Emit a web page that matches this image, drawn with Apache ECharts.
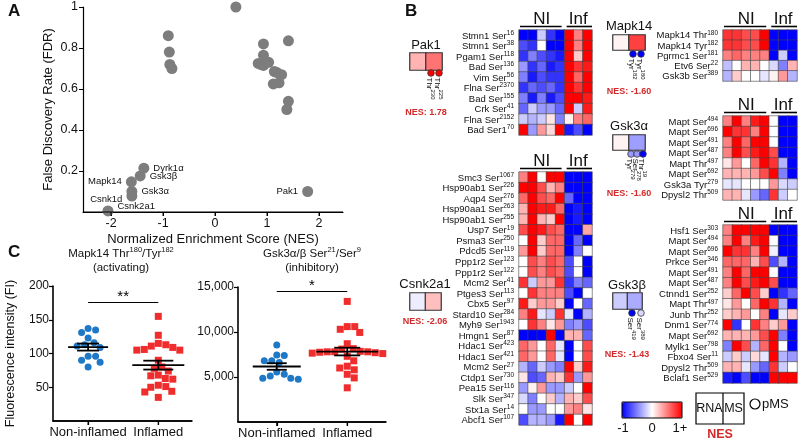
<!DOCTYPE html>
<html><head><meta charset="utf-8">
<script src="https://cdn.jsdelivr.net/npm/echarts@6/dist/echarts.min.js"></script>
<style>html,body{margin:0;padding:0;background:#fff}#c{width:800px;height:442px}</style>
</head><body><div id="c"></div>
<script>
// ---------------- Panel A data ----------------
const aNames = ['','','','','','','','','','','','','','','','','','','','',
  'Dyrk1α','Gsk3β','Mapk14','Gsk3α','Csnk1d','Csnk2a1','Pak1'];
const aNES = [0.40,-0.90,-0.88,-0.87,-0.83,0.93,0.93,1.41,0.83,0.88,0.93,0.98,1.03,1.14,1.19,1.28,1.12,1.23,1.41,1.38,
  -1.37,-1.44,-1.61,-1.60,-1.60,-2.06,1.78];
const aFDR = [1.00,0.86,0.78,0.72,0.70,0.82,0.765,0.835,0.725,0.72,0.715,0.73,0.73,0.685,0.68,0.67,0.625,0.63,0.54,0.50,
  0.214,0.176,0.147,0.100,0.078,0.005,0.100];
const aXTicks = [-2,-1,0,1,2];
const aYTicks = [0.2,0.4,0.6,0.8,1];

// ---------------- Panel C data ----------------
const cGroups = ['Non-inflamed','Inflamed'];
const mapkNI  = [137,135,131,123,116,113,111,109,96,96,90,87,80];
const mapkInf = [155,127,115,113,111,109,106,105,105,90,80,78,74,68,67,63,62,53,51,50,44,43,35];
const gskNI   = [8550,7400,7450,6800,6600,6800,5300,5550,5100,4850,4750,4850];
const gskInf  = [13400,10600,10600,10300,9950,8700,8150,8100,7850,7800,7800,7800,7750,7700,7650,7600,7300,6800,6200,6000,5800,5300,4900,3800];
const mapkTicks = [50,100,150,200];
const gskTicks = [5000,10000,15000];

// ---------------- Panel B data ----------------
const hmCols = ['NI1','NI2','NI3','NI4','NI5','Inf1','Inf2','Inf3'];
const pak1Rows = ['Stmn1 Ser|16','Stmn1 Ser|38','Pgam1 Ser|118','Bad Ser|136','Vim Ser|56','Flna Ser|2370','Bad Ser|155','Crk Ser|41','Flna Ser|2152','Bad Ser1|70'];
const pak1Vals = [
  [-1,-1,-0.2,-0.8,-1, 1,0.5,1],
  [-0.7,-0.8,0,-1,-1, 1,0.5,1],
  [-0.8,-0.5,-0.7,-0.8,-0.9, 1,0.2,1],
  [-0.4,-0.8,-0.6,-0.9,-0.8, 1,0.8,0.9],
  [-0.5,-0.9,-0.7,-0.8,-0.8, 1,0.6,1],
  [-0.8,-0.6,-0.7,-0.6,-0.8, 1,0.8,1],
  [-0.5,-0.9,-0.5,-0.9,-0.7, 1,1,0.9],
  [-0.6,-0.2,-0.4,-0.4,-0.6, 1,-0.2,0.9],
  [-0.2,-0.3,-0.2,0.1,-0.5, 0.05,0.5,0.6],
  [1,-0.4,0.4,0.15,1, -0.9,-0.7,-1]];
const csnkRows = ['Smc3 Ser|1067','Hsp90ab1 Ser|226','Aqp4 Ser|276','Hsp90aa1 Ser|263','Hsp90ab1 Ser|255','Usp7 Ser|19','Psma3 Ser|250','Pdcd5 Ser|119','Ppp1r2 Ser|123','Ppp1r2 Ser|122','Mcm2 Ser|41','Ptges3 Ser|113','Cbx5 Ser|97','Stard10 Ser|284','Myh9 Ser|1943','Hmgn1 Ser|87','Hdac1 Ser|423','Hdac1 Ser|421','Mcm2 Ser|27','Ctdp1 Ser|730','Pea15 Ser|116','Slk Ser|347','Stx1a Ser|14','Abcf1 Ser|107'];
const csnkVals = [
  [0.5,1,0,1,1, -1,-1,-1],
  [1,1,0.7,0.3,0.5, -1,-1,-1],
  [0.6,1,0.7,0.6,1, -0.6,-1,-1],
  [0.3,1,0.9,0.9,0.6, -1,-0.9,-1],
  [0.3,1,0.3,0.2,1, -1,-0.9,-1],
  [0.7,1,0.9,0.7,0.6, -1,-1,0.35],
  [0,1,0.2,0.6,0.6, -1,-0.6,-1],
  [0.4,1,0.2,0.6,0.6, -1,-0.5,0],
  [0,0.7,0.5,0.7,0.6, -0.7,0,-1],
  [0,0.7,0.5,0.7,0.6, -0.7,0,-1],
  [0.8,-0.2,0.4,0.4,0.8, -0.8,-0.5,-0.6],
  [0,0.8,0.5,0.5,0.5, -0.7,-1,0],
  [0.9,0.2,0.4,0.4,0.2, -1,0,-0.6],
  [0.5,0.9,-0.1,-0.2,0.8, -0.1,-1,-0.3],
  [0,0.8,0.5,0.1,0.4, -0.5,-0.4,-0.7],
  [-1,-1,-1,1,-1, 0.3,0.3,-0.6],
  [0.6,0.4,0,0.6,-0.1, -1,0,0.7],
  [0.6,0.4,0,0.6,-0.1, -1,0,0.7],
  [-0.3,-0.6,-0.2,-0.4,-0.5, 1,0.2,0.9],
  [0.1,-0.7,-0.6,0.3,0.2, 0.8,-0.4,0.4],
  [-0.4,0.05,0.4,-0.4,-0.4, -0.2,0,1],
  [-0.15,-0.5,0,0.2,-0.3, 0.3,0.2,0.7],
  [0,-0.4,-0.4,0,0, 0.4,0.5,0.1],
  [-0.7,-0.3,-0.3,-0.4,-0.9, 1,0,1]];
const mapkRows = ['Mapk14 Thr|180','Mapk14 Tyr|182','Pgrmc1 Ser|181','Etv6 Ser|22','Gsk3b Ser|389'];
const mapkVals = [
  [0.8,0.8,0.7,0.7,1, -1,-1,-1],
  [0.8,0.8,0.7,0.7,1, -1,-1,-1],
  [0.5,0.6,0.5,0.5,0.5, -1,-0.2,-1],
  [-0.25,0,0.3,0.3,0, -0.15,-0.5,0.3],
  [-0.3,0.2,0,0,-0.1, 0.05,0.4,-0.3]];
const gskaRows = ['Mapt Ser|494','Mapt Ser|696','Mapt Ser|491','Mapt Ser|487','Mapt Thr|497','Mapt Ser|692','Gsk3a Tyr|279','Dpysl2 Thr|509'];
const gskaVals = [
  [0.5,1,0.5,0.9,1, 0,-1,-1],
  [1,0.8,0.8,0.5,1, 0,-1,-1],
  [0.5,1,0.6,1,1, 0,-1,-1],
  [0.5,1,0.7,0.9,1, 0.7,-1,-1],
  [0.1,0.4,0,0.6,1, 0.8,-0.3,-1],
  [0.3,0.3,0.3,0.4,0.7, 1,-0.5,-1],
  [-0.1,-0.1,0,0,0, 0.4,-0.15,-0.2],
  [0.3,0.3,-0.1,-0.4,-0.6, 0.8,-0.2,0]];
const gskbRows = ['Hsf1 Ser|303','Mapt Ser|494','Mapt Ser|696','Prkce Ser|346','Mapt Ser|491','Mapt Ser|487','Ctnnd1 Ser|252','Mapt Thr|497','Junb Thr|252','Dnm1 Ser|774','Mapt Ser|692','Mylk1 Ser|798','Fbxo4 Ser|11','Dpysl2 Thr|509','Bclaf1 Ser|529'];
const gskbVals = [
  [0.5,1,1,1,1, -1,-1,-1],
  [0.5,1,0.5,0.9,1, 0,-1,-1],
  [1,0.8,0.8,0.5,1, -0.05,-1,-1],
  [0.6,0.6,0.6,0.3,0.7, -0.7,-0.3,-1],
  [0.5,1,0.6,1,1, 0,-1,-1],
  [0.5,1,0.7,0.9,1, 0.7,-1,-1],
  [0.2,0.6,1,0.7,0.2, -1,-0.8,-0.6],
  [0.1,0.4,0,0.6,1, 0.8,-0.3,-1],
  [0.2,0.3,0.4,0,0.5, -1,-0.1,0.2],
  [1,-0.8,0,0.8,0.5, 0.2,0.4,-1],
  [0.3,0.3,0.3,0.4,0.7, 1,-0.5,-1],
  [-0.5,1,0.7,-0.3,0.6, 1,0,-1],
  [-0.2,0.2,-0.2,0.15,-0.1, 1,-0.3,-0.4],
  [0.3,0.3,-0.1,-0.4,-0.6, 0.8,-0.2,0],
  [-0.9,-1,-0.7,-1,-1, 1,1,1]];
// kinase summary boxes: [RNA, MS], pMS site values, NES
const boxCols = ['RNA','MS'];
const pak1Box = [0.3,0.55],  pak1Sites = ['Thr|230','Thr|225'], pak1Dots = [1,1], pak1NES = 1.78;
const csnkBox = [-0.07,0.25], csnkSites = [], csnkDots = [], csnkNES = -2.06;
const mapkBox = [0.05,0.75], mapkSites = ['Tyr|182','Tyr|180'], mapkDots = [-1,-1], mapkNES = -1.60;
const gskaBox = [0.05,-0.38], gskaSites = ['Tyr|279','Ser|278','Thr|19'], gskaDots = [-0.4,-0.4,-1], gskaNES = -1.60;
const gskbBox = [-0.2,-0.33], gskbSites = ['Ser|419','Ser|389'], gskbDots = [-1,-0.15], gskbNES = -1.43;

// ---------------- helpers ----------------
const FF = 'Liberation Sans, Arial, sans-serif';
const INK = '#111';
const RED_T = '#d42a2a';
const supFmt = s => { const p = s.split('|'); return p.length > 1 ? '{n|' + p[0] + '}{s|' + p[1] + '}' : '{n|' + p[0] + '}'; };
const mkRich = (n, s) => ({ n: { fontSize: n, lineHeight: n + 2, verticalAlign: 'bottom', color: INK, fontFamily: FF },
                           s: { fontSize: s, lineHeight: s + 1, verticalAlign: 'top', color: INK, fontFamily: FF } });
function lerp(a, b, t) { return Math.round(a + (b - a) * t); }
function cmap(v) { v = Math.max(-1, Math.min(1, v));
  if (v < 0) { const t = -v; return `rgb(${lerp(255,0,t)},${lerp(255,0,t)},255)`; }
  return `rgb(255,${lerp(255,0,v)},${lerp(255,0,v)})`; }
const mean = a => a.reduce((s, v) => s + v, 0) / a.length;
const sem = a => { const m = mean(a); return Math.sqrt(a.reduce((s, v) => s + (v - m) * (v - m), 0) / (a.length - 1)) / Math.sqrt(a.length); };
function swarm(vals, pxPerVal, size, pxPerX) {
  const order = vals.map((v, i) => i).sort((a, b) => vals[b] - vals[a]);
  const placed = [], off = new Array(vals.length).fill(0);
  for (const i of order) {
    const y = vals[i] * pxPerVal;
    let chosen = 0;
    for (let k = 0; k < 400; k++) {
      const c = (k % 2 ? 1 : -1) * Math.ceil(k / 2) * 0.5;
      if (placed.every(p => Math.hypot(p.x - c, p.y - y) >= size)) { chosen = c; break; }
    }
    placed.push({ x: chosen, y }); off[i] = chosen / pxPerX;
  }
  return off;
}

// ---------------- layout ----------------
const gA = { left: 83, top: 7, width: 260, height: 205 };
const gC1 = { left: 53, top: 286, width: 139, height: 135 };
const gC2 = { left: 238, top: 287, width: 148, height: 135 };
const aX = [-2.54, 2.46], c1X = [-0.5, 1.48], c2X = [-0.55, 1.55];
const heatLayouts = [
  { rows: pak1Rows, vals: pak1Vals, g: { left: 519, top: 30, width: 73, height: 105 } },
  { rows: csnkRows, vals: csnkVals, g: { left: 519, top: 172, width: 73, height: 253 } },
  { rows: mapkRows, vals: mapkVals, g: { left: 723, top: 30, width: 74, height: 51 } },
  { rows: gskaRows, vals: gskaVals, g: { left: 723, top: 116, width: 74, height: 84 } },
  { rows: gskbRows, vals: gskbVals, g: { left: 723, top: 225, width: 74, height: 158 } }];
const kinLayouts = [
  { name: 'Pak1', box: pak1Box, sites: pak1Sites, dots: pak1Dots, nes: pak1NES, g: { left: 410, top: 53, width: 32, height: 17 }, nameY: 45, dotX: [431, 439], dotY: 73, nesY: 113, cx: 426 },
  { name: 'Csnk2a1', box: csnkBox, sites: csnkSites, dots: csnkDots, nes: csnkNES, g: { left: 410, top: 293, width: 31, height: 17 }, nameY: 284, dotX: [], dotY: 0, nesY: 322, cx: 425 },
  { name: 'Mapk14', box: mapkBox, sites: mapkSites, dots: mapkDots, nes: mapkNES, g: { left: 613, top: 35, width: 32, height: 15 }, nameY: 26, dotX: [633, 641], dotY: 54, nesY: 92, cx: 629 },
  { name: 'Gsk3α', box: gskaBox, sites: gskaSites, dots: gskaDots, nes: gskaNES, g: { left: 613, top: 135, width: 32, height: 15 }, nameY: 126, dotX: [631, 637, 643], dotY: 154, nesY: 194, cx: 629 },
  { name: 'Gsk3β', box: gskbBox, sites: gskbSites, dots: gskbDots, nes: gskbNES, g: { left: 613, top: 293, width: 29, height: 16 }, nameY: 285, dotX: [632, 641], dotY: 313, nesY: 355, cx: 627 }];

const grids = [], xAxes = [], yAxes = [], series = [];
const lineOf = w => ({ show: true, onZero: false, lineStyle: { color: '#000', width: w } });
const tickOf = (vals, w) => ({ show: true, customValues: vals, length: 4, lineStyle: { color: '#000', width: w } });

// ---- Panel A ----
grids.push(gA);
xAxes.push({ gridIndex: 0, type: 'value', min: aX[0], max: aX[1], splitLine: { show: false },
  axisLine: lineOf(1.2), axisTick: tickOf(aXTicks, 1),
  axisLabel: { customValues: aXTicks, fontSize: 12.5, color: INK, fontFamily: FF, margin: 5 },
  name: 'Normalized Enrichment Score (NES)', nameLocation: 'middle', nameGap: 21,
  nameTextStyle: { fontSize: 13, color: INK, fontFamily: FF } });
yAxes.push({ gridIndex: 0, type: 'value', min: 0, max: 1, splitLine: { show: false },
  axisLine: lineOf(1.2), axisTick: tickOf(aYTicks, 1),
  axisLabel: { customValues: aYTicks, fontSize: 12.5, color: INK, fontFamily: FF, margin: 5, formatter: v => v === 1 ? '1' : v.toFixed(1) },
  name: 'False Discovery Rate (FDR)', nameLocation: 'middle', nameGap: 28,
  nameTextStyle: { fontSize: 13, color: INK, fontFamily: FF } });
const aLabelPos = { 'Dyrk1α': 'right', 'Gsk3β': 'right', 'Mapk14': 'left', 'Gsk3α': 'right', 'Csnk1d': 'left', 'Csnk2a1': 'right', 'Pak1': 'left' };
series.push({ type: 'scatter', xAxisIndex: 0, yAxisIndex: 0, symbolSize: 11, itemStyle: { color: '#7d7d7d', opacity: 1 },
  data: aNES.map((x, i) => {
    const d = { value: [x, aFDR[i]], name: aNames[i] };
    if (aNames[i]) {
      const pos = aLabelPos[aNames[i]];
      d.label = { show: true, position: pos, distance: 4, formatter: '{b}', fontSize: 9.5, color: INK, fontFamily: FF };
      if (aNames[i] === 'Csnk1d') d.label.offset = [0, 3];
      if (aNames[i] === 'Csnk2a1') d.label.offset = [0, -5];
    }
    return d; }) });

// ---- Panel C ----
function cPanel(gi, g, xr, yMax, ticks, ni, inf, fmt, nameOn, meanH, capH, sigY, stars) {
  grids.push(g);
  xAxes.push({ gridIndex: gi, type: 'value', min: xr[0], max: xr[1], splitLine: { show: false },
    axisLine: lineOf(1.6), axisTick: tickOf([0, 1], 1.2),
    axisLabel: { customValues: [0, 1], formatter: v => cGroups[Math.round(v)], fontSize: 13, color: INK, fontFamily: FF, margin: 5 } });
  const y = { gridIndex: gi, type: 'value', min: 0, max: yMax, splitLine: { show: false },
    axisLine: lineOf(1.6), axisTick: tickOf(ticks, 1.2),
    axisLabel: { customValues: ticks, formatter: fmt, fontSize: 12, color: INK, fontFamily: FF, margin: 4 } };
  if (nameOn) Object.assign(y, { name: 'Fluorescence intensity (FI)', nameLocation: 'middle', nameGap: 36, nameTextStyle: { fontSize: 12.5, color: INK, fontFamily: FF } });
  yAxes.push(y);
  const pxV = g.height / yMax, pxX = g.width / (xr[1] - xr[0]);
  const o1 = swarm(ni, pxV, 7.5, pxX), o2 = swarm(inf, pxV, 7.5, pxX);
  series.push({ type: 'scatter', xAxisIndex: gi, yAxisIndex: gi, symbol: 'circle', symbolSize: 7, itemStyle: { color: '#1f78c6', opacity: 1 },
    data: ni.map((v, i) => [0 + o1[i], v]),
    markLine: { silent: true, symbol: 'none', lineStyle: { color: '#000', width: 1.2, type: 'solid' },
      label: { show: true, position: 'middle', formatter: stars, fontSize: 15, color: '#000', fontFamily: FF, distance: -2 },
      data: [[{ coord: [0, sigY] }, { coord: [1, sigY] }]] } });
  series.push({ type: 'scatter', xAxisIndex: gi, yAxisIndex: gi, symbol: 'rect', symbolSize: 7, itemStyle: { color: '#f02d2d', opacity: 1 },
    data: inf.map((v, i) => [1 + o2[i], v]) });
  const stat = [ni, inf].map((a, i) => { const m = mean(a), s = sem(a); return [i, m, m - s, m + s]; });
  series.push({ type: 'custom', xAxisIndex: gi, yAxisIndex: gi, z: 10, data: stat, encode: { x: 0, y: [1, 2, 3] },
    renderItem: (params, api) => {
      const i = api.value(0);
      const c = api.coord([i, api.value(1)]), lo = api.coord([i, api.value(2)]), hi = api.coord([i, api.value(3)]);
      const mh = meanH[i], ch = capH[i];
      const st = { stroke: '#000', lineWidth: 1.8 };
      return { type: 'group', children: [
        { type: 'line', shape: { x1: c[0] - mh, y1: c[1], x2: c[0] + mh, y2: c[1] }, style: st },
        { type: 'line', shape: { x1: c[0], y1: lo[1], x2: c[0], y2: hi[1] }, style: st },
        { type: 'line', shape: { x1: c[0] - ch, y1: lo[1], x2: c[0] + ch, y2: lo[1] }, style: st },
        { type: 'line', shape: { x1: c[0] - ch, y1: hi[1], x2: c[0] + ch, y2: hi[1] }, style: st }] };
    } });
}
cPanel(1, gC1, c1X, 200, mapkTicks, mapkNI, mapkInf, v => String(v), true, [20, 26], [11, 15], 176, '**');
cPanel(2, gC2, c2X, 15000, gskTicks, gskNI, gskInf, v => v.toLocaleString('en-US'), false, [24, 31], [10, 13], 14550, '*');

// ---- Panel B heatmaps ----
const heatSeriesIdx = [];
const rowRich = mkRich(9.5, 6.5);
heatLayouts.forEach(h => {
  const gi = grids.length;
  grids.push(h.g);
  xAxes.push({ gridIndex: gi, type: 'category', data: hmCols, show: false });
  yAxes.push({ gridIndex: gi, type: 'category', data: h.rows, inverse: true,
    axisLine: { show: false }, axisTick: { show: false }, splitLine: { show: false },
    axisLabel: { margin: 5, formatter: supFmt, rich: rowRich, interval: 0 } });
  const data = [];
  h.vals.forEach((row, r) => row.forEach((v, c) => data.push([c, r, v])));
  heatSeriesIdx.push(series.length);
  series.push({ type: 'heatmap', xAxisIndex: gi, yAxisIndex: gi, data,
    itemStyle: { borderColor: '#444', borderWidth: 0.6 }, emphasis: { disabled: true } });
});
kinLayouts.forEach(k => {
  const gi = grids.length;
  grids.push(k.g);
  xAxes.push({ gridIndex: gi, type: 'category', data: boxCols, show: false });
  yAxes.push({ gridIndex: gi, type: 'category', data: [k.name], show: false });
  heatSeriesIdx.push(series.length);
  series.push({ type: 'heatmap', xAxisIndex: gi, yAxisIndex: gi, data: k.box.map((v, c) => [c, 0, v]),
    itemStyle: { borderColor: '#333', borderWidth: 1.2 }, emphasis: { disabled: true } });
});

// ---------------- graphics ----------------
const G = [];
const T = (x, y, text, o) => G.push({ type: 'text', x, y, silent: true, z: 50,
  style: Object.assign({ text, fill: INK, fontSize: 12, fontFamily: FF, align: 'center', verticalAlign: 'middle' }, o || {}) });
const L = (x1, y1, x2, y2, w) => G.push({ type: 'line', silent: true, z: 50, shape: { x1, y1, x2, y2 }, style: { stroke: '#000', lineWidth: w || 1.5 } });
T(8, 11, 'A', { fontSize: 17, fontWeight: 'bold', align: 'left' });
T(405, 11, 'B', { fontSize: 17, fontWeight: 'bold', align: 'left' });
T(8, 252, 'C', { fontSize: 17, fontWeight: 'bold', align: 'left' });
// C titles
const titleRich = mkRich(11.5, 7.5);
T(121, 253, '{n|Mapk14 Thr}{s|180}{n|/Tyr}{s|182}', { rich: titleRich });
T(121, 268, '(activating)', { fontSize: 11.5 });
T(312, 253, '{n|Gsk3α/β Ser}{s|21}{n|/Ser}{s|9}', { rich: titleRich });
T(312, 268, '(inhibitory)', { fontSize: 11.5 });
// horizontal axis baselines (kept explicit so they always show) with ticks at the axis tick values
[[gA, aX, aXTicks, 1.2], [gC1, c1X, [0, 1], 1.6], [gC2, c2X, [0, 1], 1.6]].forEach(([g, xr, ticks, w]) => {
  const yb = g.top + g.height;
  G.push({ type: 'line', silent: true, z: 100, zlevel: 1, shape: { x1: g.left, y1: yb, x2: g.left + g.width, y2: yb }, style: { stroke: '#000', lineWidth: w } });
  ticks.forEach(t => {
    const px = g.left + (t - xr[0]) / (xr[1] - xr[0]) * g.width;
    G.push({ type: 'line', silent: true, z: 100, zlevel: 1, shape: { x1: px, y1: yb, x2: px, y2: yb + 4 }, style: { stroke: '#000', lineWidth: 1.1 } });
  });
});
// heatmap headers
heatLayouts.forEach(h => {
  const g = h.g, cw = g.width / 8;
  T(g.left + 2.5 * cw, g.top - 2, 'NI', { fontSize: 17, verticalAlign: 'bottom' });
  T(g.left + 6.5 * cw, g.top - 2, 'Inf', { fontSize: 17, verticalAlign: 'bottom' });
  L(g.left + 1, g.top - 3.5, g.left + 5 * cw - 3, g.top - 3.5, 1.6);
  L(g.left + 5 * cw + 2, g.top - 3.5, g.left + g.width, g.top - 3.5, 1.6);
});
// kinase decorations
const siteRich = mkRich(8, 6);
kinLayouts.forEach(k => {
  T(k.cx, k.nameY, k.name, { fontSize: 13 });
  k.dots.forEach((v, i) => {
    G.push({ type: 'circle', silent: true, z: 50, shape: { cx: k.dotX[i], cy: k.dotY, r: 3.3 }, style: { fill: cmap(v), stroke: '#333', lineWidth: 0.8 } });
    G.push({ type: 'text', silent: true, z: 50, x: k.dotX[i] - 0.5, y: k.dotY + 4.5, rotation: -Math.PI / 2,
      style: { text: supFmt(k.sites[i]), rich: siteRich, align: 'left', verticalAlign: 'middle', fill: INK } });
  });
  T(k.cx, k.nesY, 'NES: ' + k.nes.toFixed(2), { fontSize: 9, fontWeight: 'bold', fill: RED_T });
});
// colour bar frame + labels, legend box
G.push({ type: 'rect', silent: true, z: 50, shape: { x: 622, y: 402, width: 60, height: 16 }, style: { fill: 'none', stroke: '#000', lineWidth: 1 } });
T(623, 428, '-1', { fontSize: 13 });
T(652, 428, '0', { fontSize: 13 });
T(680, 428, '1+', { fontSize: 13 });
G.push({ type: 'rect', silent: true, z: 50, shape: { x: 696, y: 393, width: 48, height: 31 }, style: { fill: 'none', stroke: '#000', lineWidth: 1.2 } });
L(723, 393, 723, 424, 1.2);
T(709.5, 409, 'RNA', { fontSize: 12.5 });
T(733.5, 409, 'MS', { fontSize: 12.5 });
G.push({ type: 'circle', silent: true, z: 50, shape: { cx: 755, cy: 404, r: 5 }, style: { fill: '#fff', stroke: '#000', lineWidth: 1.2 } });
T(762, 404, 'pMS', { fontSize: 13, align: 'left' });
T(720, 435, 'NES', { fontSize: 12.5, fontWeight: 'bold', fill: RED_T });

const option = {
  animation: false,
  backgroundColor: '#fff',
  textStyle: { fontFamily: FF },
  grid: grids.map(g => Object.assign({ containLabel: false }, g)),
  xAxis: xAxes, yAxis: yAxes,
  visualMap: { type: 'continuous', min: -1, max: 1, seriesIndex: heatSeriesIdx, orient: 'horizontal',
    left: 622, top: 402, padding: 0, itemWidth: 16, itemHeight: 60, calculable: false, text: null,
    inRange: { color: ['#0000ff', '#ffffff', '#ff0000'] }, hoverLink: false },
  series, graphic: G
};
const chart = echarts.init(document.getElementById('c'), null, { width: 800, height: 442 });
chart.setOption(option);
</script></body></html>
